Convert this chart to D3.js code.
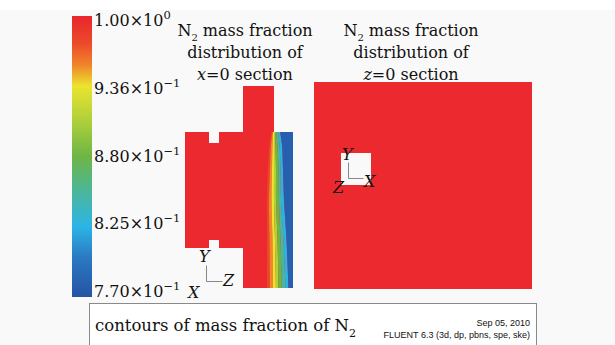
<!DOCTYPE html>
<html>
<head>
<meta charset="utf-8">
<script src="https://cdn.jsdelivr.net/npm/d3@7"></script>
<style>
  body { margin: 0; background: #fff; }
  text { font-family: "DejaVu Serif", serif; fill: #111; }
</style>
</head>
<body>
<div id="chart"></div>
<script>
// colour bar
const tickValues = [1.0, 0.936, 0.88, 0.825, 0.77];
const tickMantissa = ["1.00", "9.36", "8.80", "8.25", "7.70"];
const tickExponent = ["0", "-1", "-1", "-1", "-1"];
const cmapValues = [1.0, 0.975, 0.955, 0.936, 0.905, 0.88, 0.852, 0.825, 0.80, 0.77];
const cmapColors = ["#e8262c", "#ec4a2b", "#f0862a", "#ebe42e", "#a6cd3c", "#6db545",
                    "#4bb79c", "#2cb4e6", "#2a78c0", "#2553a4"];

// x=0 section outline, model units (z, y)
const xSectionOutline = [[0,156],[24,156],[24,145],[34,145],[34,156],[58,156],[58,202],
  [89,202],[89,156],[108,156],[108,0],[58,0],[58,40],[34,40],[34,48],[24,48],[24,40],[0,40]];
// mixing front: z where the mass fraction falls to each level, per height
const frontLevels = [0.99, 0.965, 0.945, 0.925, 0.895, 0.865, 0.84, 0.81];
const frontRows = [
  { y: 156, z: [86.5, 87.5, 88, 89, 90, 91.5, 93, 95] },
  { y: 143, z: [84.5, 86, 87.5, 89, 90.5, 92.5, 94.5, 97] },
  { y: 118, z: [83, 85, 87, 89, 91, 93.5, 95.5, 98] },
  { y: 88,  z: [82, 84, 86.5, 89, 91, 94, 96, 99] },
  { y: 48,  z: [82, 84.5, 87.5, 90, 92.5, 95.5, 98.5, 101.5] },
  { y: 0,   z: [82, 85, 88, 91, 93.5, 97, 100.5, 103.5] }
];
const frontEdge = 112;

// z=0 section, model units (x, y)
const zSectionOutline = [[0,0],[218,0],[218,207],[0,207]];
const zSectionHole = [[27,104],[57,104],[57,136],[27,136]];

const W = 615, H = 345;
const RED = "#ec292e";

const svg = d3.select("#chart").append("svg")
  .attr("width", W).attr("height", H);

svg.append("rect").attr("width", W).attr("height", H).attr("fill", "#fff");
svg.append("rect").attr("y", 10).attr("width", W).attr("height", H - 10).attr("fill", "#f9f9f9");

const defs = svg.append("defs");

// colour scales
const cmap = d3.scaleLinear().domain(cmapValues).range(cmapColors).interpolate(d3.interpolateRgb);
const barTop = 16, barBottom = 297;
const barY = d3.scaleLinear()
  .domain(tickValues)
  .range(tickValues.map((d, i) => barTop + i * (barBottom - barTop) / (tickValues.length - 1)));

const grad = defs.append("linearGradient").attr("id", "cbar")
  .attr("x1", 0).attr("y1", 0).attr("x2", 0).attr("y2", 1);
grad.selectAll("stop").data(cmapValues).join("stop")
  .attr("offset", d => (barY(d) - barTop) / (barBottom - barTop))
  .attr("stop-color", (d, i) => cmapColors[i]);

svg.append("rect")
  .attr("x", 72).attr("y", barTop)
  .attr("width", 20).attr("height", barBottom - barTop)
  .attr("fill", "url(#cbar)");

const labY = d3.scalePoint().domain(d3.range(tickValues.length)).range([26, 297]);
const lab = svg.selectAll(".tick").data(tickValues).join("text")
  .attr("class", "tick")
  .attr("x", 94)
  .attr("y", (d, i) => labY(i))
  .attr("font-size", 16);
lab.append("tspan").text((d, i) => tickMantissa[i] + "\u00d710");
lab.append("tspan").attr("font-size", 11.5).attr("dy", -7)
  .text((d, i) => tickExponent[i].replace("-", "\u2212"));

// titles
function title(cx, v) {
  const t1 = svg.append("text").attr("x", cx).attr("y", 36)
    .attr("text-anchor", "middle").attr("font-size", 16);
  t1.append("tspan").text("N");
  t1.append("tspan").attr("font-size", 10).attr("dy", 5).text("2");
  t1.append("tspan").attr("dy", -5).text(" mass fraction");
  svg.append("text").attr("x", cx).attr("y", 58)
    .attr("text-anchor", "middle").attr("font-size", 16).text("distribution of");
  const t3 = svg.append("text").attr("x", cx).attr("y", 80)
    .attr("text-anchor", "middle").attr("font-size", 16);
  t3.append("tspan").attr("font-style", "italic").text(v);
  t3.append("tspan").text("=0 section");
}
title(245, "x");
title(411, "z");

// x=0 section
const zS = d3.scaleLinear().domain([0, 108]).range([185, 293]);
const yS = d3.scaleLinear().domain([0, 202]).range([288, 86]);
const outline = d3.line().x(d => zS(d[0])).y(d => yS(d[1]));

defs.append("clipPath").attr("id", "xclip")
  .append("path").attr("d", outline(xSectionOutline) + "Z");
defs.append("filter").attr("id", "soft")
  .attr("x", -0.2).attr("y", -0.2).attr("width", 1.4).attr("height", 1.4)
  .append("feGaussianBlur").attr("stdDeviation", 0.6);

const xg = svg.append("g").attr("clip-path", "url(#xclip)");
xg.append("path").attr("d", outline(xSectionOutline) + "Z").attr("fill", RED);

const bandG = xg.append("g").attr("filter", "url(#soft)");
frontLevels.forEach((lv, i) => {
  const next = frontLevels[i + 1];
  const mid = next === undefined ? 0.78 : (lv + next) / 2;
  const area = d3.area()
    .curve(d3.curveCatmullRom)
    .y(d => yS(d.y))
    .x0(d => zS(d.z[i]))
    .x1(d => zS(next === undefined ? frontEdge : d.z[i + 1]));
  bandG.append("path")
    .attr("d", area(frontRows))
    .attr("fill", cmap(mid));
});

// z=0 section
const xR = d3.scaleLinear().domain([0, 218]).range([314, 532]);
const yR = d3.scaleLinear().domain([0, 207]).range([289, 82]);
const outlineR = d3.line().x(d => xR(d[0])).y(d => yR(d[1]));
svg.append("path")
  .attr("d", outlineR(zSectionOutline) + "Z" + outlineR(zSectionHole) + "Z")
  .attr("fill", RED).attr("fill-rule", "evenodd");

// axis triads
function triad(ox, oy, dx, labels) {
  svg.append("path")
    .attr("d", `M${ox},${oy - 16}V${oy}H${ox + dx}`)
    .attr("fill", "none").attr("stroke", "#888").attr("stroke-width", 1);
  labels.forEach(l => {
    svg.append("text").attr("x", l[1]).attr("y", l[2])
      .attr("font-size", 16).attr("font-style", "italic").text(l[0]);
  });
}
triad(206.5, 281.5, 16, [["Y", 199, 262], ["Z", 223, 286], ["X", 188, 298]]);
triad(348.5, 178.5, 15, [["Y", 342, 160], ["X", 364, 187], ["Z", 333, 193]]);

// info box
svg.append("rect")
  .attr("x", 89.5).attr("y", 303.5).attr("width", 447).attr("height", 50)
  .attr("fill", "#fff").attr("stroke", "#8a8a8a");
const cap = svg.append("text").attr("x", 95).attr("y", 331).attr("font-size", 16.5);
cap.append("tspan").text("contours of mass fraction of N");
cap.append("tspan").attr("font-size", 11).attr("dy", 6).text("2");

svg.append("text").attr("x", 530).attr("y", 326).attr("text-anchor", "end")
  .style("font-family", "'Liberation Sans', Arial, sans-serif").attr("font-size", 9)
  .text("Sep 05, 2010");
svg.append("text").attr("x", 530).attr("y", 338).attr("text-anchor", "end")
  .style("font-family", "'Liberation Sans', Arial, sans-serif").attr("font-size", 9)
  .text("FLUENT 6.3 (3d, dp, pbns, spe, ske)");
</script>
</body>
</html>
